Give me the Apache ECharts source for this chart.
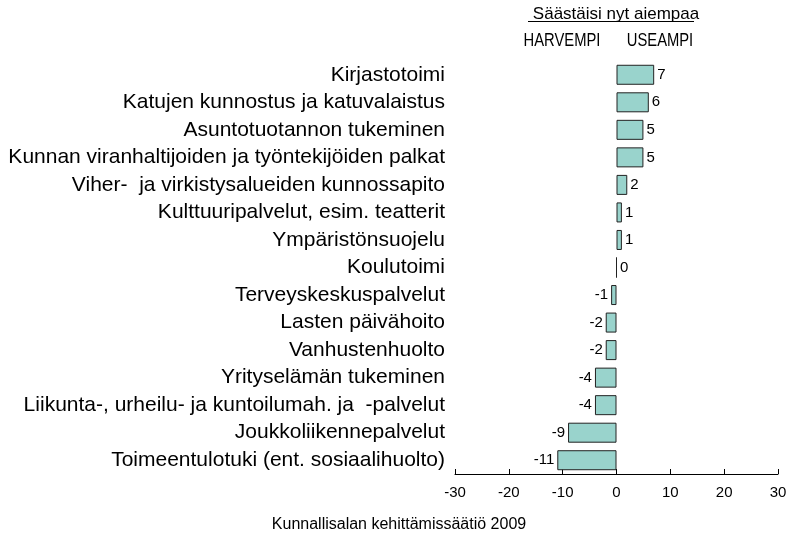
<!DOCTYPE html>
<html>
<head>
<meta charset="utf-8">
<script src="https://cdn.jsdelivr.net/npm/echarts@6/dist/echarts.min.js"></script>
<style>
  html, body { margin: 0; padding: 0; background: #fff; }
  #main { width: 794px; height: 548px; }
</style>
</head>
<body>
<div id="main"></div>
<script>
const categories = [
  "Kirjastotoimi",
  "Katujen kunnostus ja katuvalaistus",
  "Asuntotuotannon tukeminen",
  "Kunnan viranhaltijoiden ja työntekijöiden palkat",
  "Viher-  ja virkistysalueiden kunnossapito",
  "Kulttuuripalvelut, esim. teatterit",
  "Ympäristönsuojelu",
  "Koulutoimi",
  "Terveyskeskuspalvelut",
  "Lasten päivähoito",
  "Vanhustenhuolto",
  "Yrityselämän tukeminen",
  "Liikunta-, urheilu- ja kuntoilumah. ja  -palvelut",
  "Joukkoliikennepalvelut",
  "Toimeentulotuki (ent. sosiaalihuolto)"
];
const values = [7, 6, 5, 5, 2, 1, 1, 0, -1, -2, -2, -4, -4, -9, -11];
const xTicks = { min: -30, max: 30, interval: 10 };

const font = "Liberation Sans, Arial, sans-serif";

const chart = echarts.init(document.getElementById("main"), null, { renderer: "canvas" });

// condensed header text (Arial Narrow look) via horizontal scaling
function narrowText(text, cx, top, size) {
  return {
    type: "text",
    x: cx, y: top, scaleX: 0.82,
    style: {
      text: text, x: 0, y: 0, align: "center", verticalAlign: "top",
      font: size + "px " + font, fill: "#000"
    }
  };
}

chart.setOption({
  animation: false,
  backgroundColor: "#fff",
  title: [
    {
      text: "Säästäisi nyt aiempaa",
      left: 611, top: 1, textAlign: "center",
      textStyle: { fontFamily: font, fontSize: 17, fontWeight: "normal", color: "#000" }
    },
    {
      text: "Kunnallisalan kehittämissäätiö 2009",
      left: 394, top: 512, textAlign: "center",
      textStyle: { fontFamily: font, fontSize: 16, fontWeight: "normal", color: "#000" }
    }
  ],
  graphic: [
    {
      type: "line",
      shape: { x1: 528, y1: 21.5, x2: 694, y2: 21.5 },
      style: { stroke: "#000", lineWidth: 1 }
    },
    narrowText("HARVEMPI", 562, 32, 18),
    narrowText("USEAMPI", 660, 32, 18)
  ],
  grid: { left: 455, right: 16, top: 61, bottom: 74 },
  xAxis: {
    type: "value",
    min: xTicks.min, max: xTicks.max, interval: xTicks.interval,
    axisLine: { show: true, lineStyle: { color: "#000", width: 1 } },
    axisTick: { show: true, inside: true, length: 5, lineStyle: { color: "#000" } },
    splitLine: { show: false },
    axisLabel: { fontFamily: font, fontSize: 15, color: "#000", margin: 11 }
  },
  yAxis: {
    type: "category",
    data: categories,
    inverse: true,
    axisLine: { show: false },
    axisTick: { show: false },
    axisLabel: { fontFamily: font, fontSize: 21, color: "#000", margin: 10 }
  },
  series: [
    {
      type: "bar",
      barWidth: 20,
      data: values.map(v => ({
        value: v,
        label: { position: v < 0 ? "left" : "right" }
      })),
      itemStyle: { color: "#99d3cc", borderColor: "#222", borderWidth: 1 },
      label: {
        show: true,
        fontFamily: font, fontSize: 15, color: "#000", distance: 3
      }
    }
  ]
});
</script>
</body>
</html>
